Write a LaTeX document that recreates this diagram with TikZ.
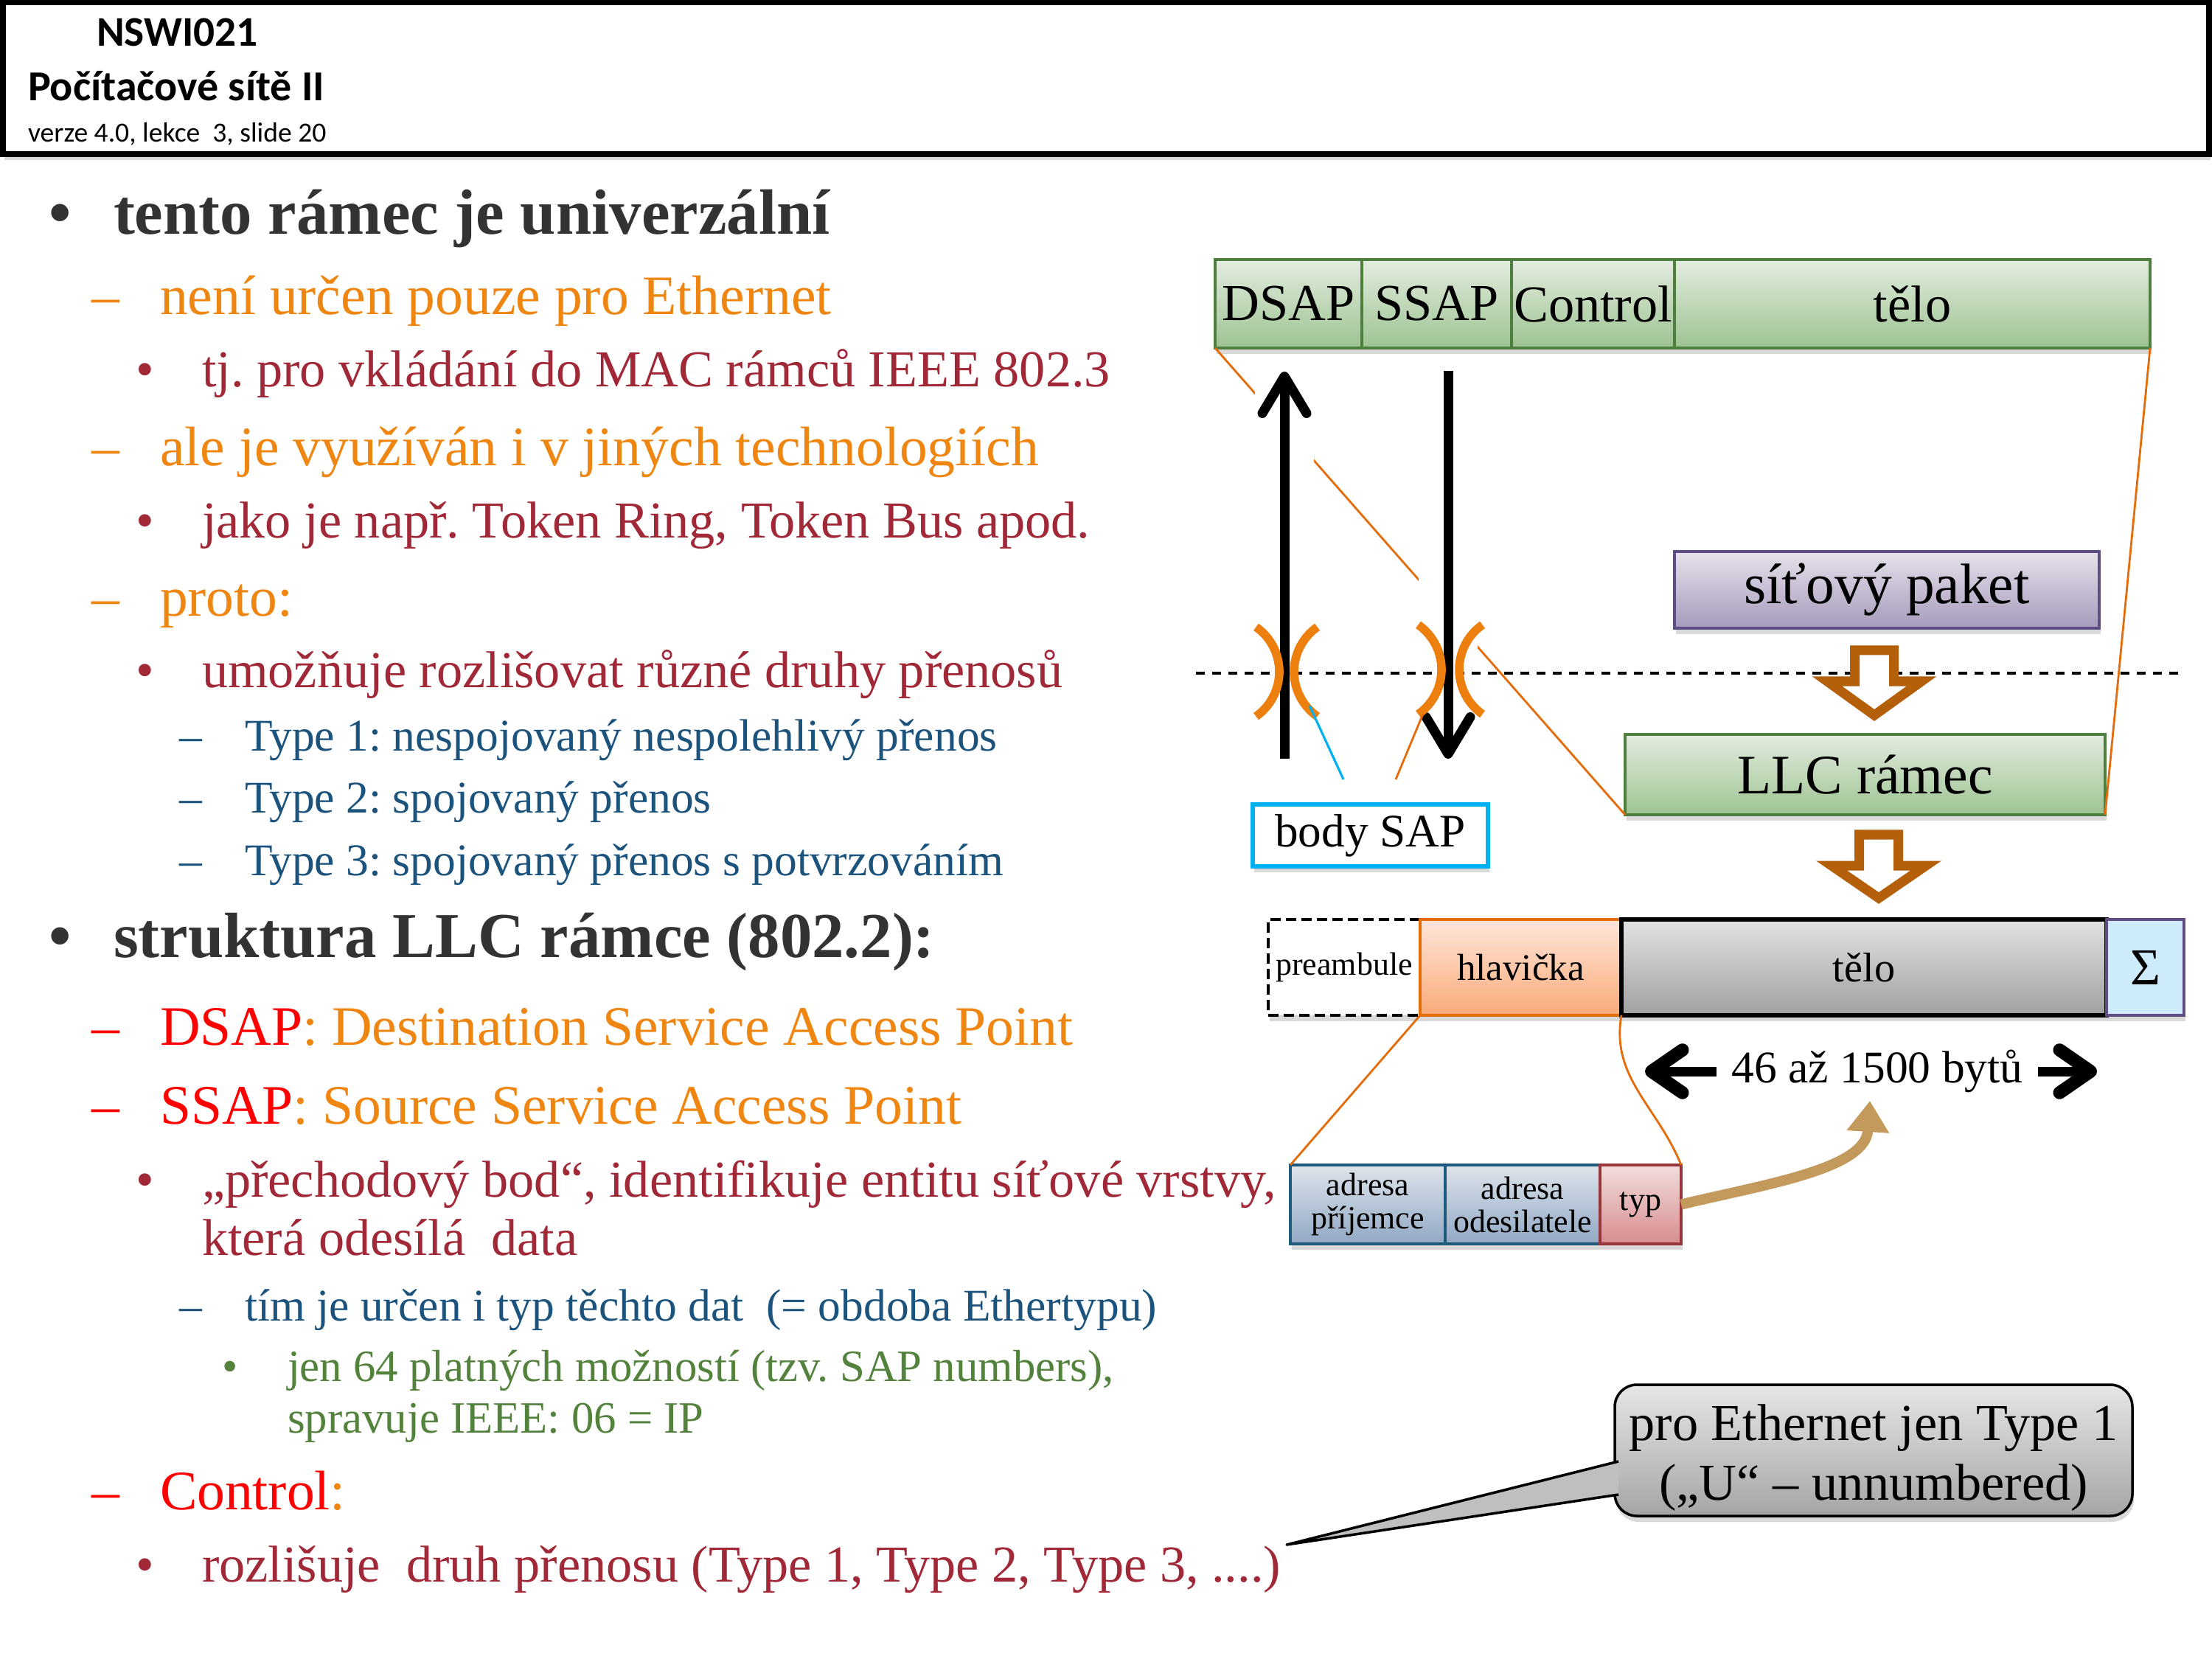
\documentclass[tikz,border=0pt]{standalone}
\usepackage{fontspec}
\setmainfont{Liberation Serif}
\newfontfamily\hdrfont{Carlito}
\usetikzlibrary{positioning,arrows.meta,shadows}

\definecolor{ink}{RGB}{51,51,51}
\definecolor{ora}{RGB}{238,134,17}
\definecolor{wine}{RGB}{160,40,55}
\definecolor{deepblue}{RGB}{28,83,125}
\definecolor{leaf}{RGB}{83,130,60}
\definecolor{rust}{RGB}{228,108,10}
\definecolor{brkora}{RGB}{237,127,14}
\definecolor{sky}{RGB}{0,176,240}
\definecolor{hollbrown}{RGB}{180,95,10}
\definecolor{tanarrow}{RGB}{196,154,92}
\definecolor{grnline}{RGB}{78,127,62}
\definecolor{grntop}{RGB}{227,236,224}
\definecolor{grnbot}{RGB}{157,195,145}
\definecolor{purline}{RGB}{94,76,130}
\definecolor{purtop}{RGB}{230,225,235}
\definecolor{purbot}{RGB}{166,154,187}
\definecolor{hlvtop}{RGB}{253,230,218}
\definecolor{hlvbot}{RGB}{250,170,120}
\definecolor{grytop}{RGB}{226,226,226}
\definecolor{grybot}{RGB}{160,160,160}
\definecolor{sumfill}{RGB}{205,235,250}
\definecolor{bluline}{RGB}{31,90,125}
\definecolor{blutop}{RGB}{222,228,235}
\definecolor{blubot}{RGB}{145,168,196}
\definecolor{redline}{RGB}{150,54,60}
\definecolor{redtop}{RGB}{242,221,220}
\definecolor{redbot}{RGB}{215,140,142}
\definecolor{calltop}{RGB}{230,230,230}
\definecolor{callbot}{RGB}{165,165,165}

\tikzset{
  txt/.style={anchor=base west, inner sep=0pt, outer sep=0pt},
  lvla/.style={txt, text=ink, font=\fontsize{24.7}{29}\selectfont\bfseries},
  lvlb/.style={txt, text=ora, font=\fontsize{21.5}{26}\selectfont},
  lvlc/.style={txt, text=wine, font=\fontsize{20}{24}\selectfont},
  lvld/.style={txt, text=deepblue, font=\fontsize{17.5}{21}\selectfont},
  lvle/.style={txt, text=leaf, font=\fontsize{17.3}{21}\selectfont},
  shd/.style={drop shadow={opacity=0.3, shadow xshift=0.02cm, shadow yshift=-0.08cm}},
  fld/.style={draw, shd, outer sep=0pt, inner sep=0pt, line width=1.1pt},
  grn/.style={fld, draw=grnline, top color=grntop, bottom color=grnbot},
  llcfield/.style={grn, minimum height=1.2cm, font=\fontsize{20}{24}\selectfont},
  framefield/.style={fld, minimum height=1.3cm},
  subfield/.style={fld, minimum height=1.07cm, align=center, font=\fontsize{12.5}{12.8}\selectfont},
  thinora/.style={draw=rust, line width=0.8pt},
  brk/.style={draw=brkora, line width=3.3pt},
  sapflow/.style={line width=3.7pt, -{Straight Barb[round, length=0.5cm, width=0.6cm]},
    preaction={draw=white, line width=0.8cm, -}},
  lenarr/.style={line width=3.7pt, -{Straight Barb[round, length=0.42cm, width=0.58cm, line width=5pt]}},
  holl/.style={draw=hollbrown, fill=white, line width=3.7pt},
  tanarr/.style={draw=tanarrow, line width=4pt, -{Triangle[length=0.42cm, width=0.55cm]}},
  sep/.style={line width=1.2pt, dash pattern=on 0.12cm off 0.1cm},
  callbox/.style={draw, line width=1pt, rounded corners=0.3cm, top color=calltop, bottom color=callbot, shd}
}

\begin{document}
\frenchspacing
\begin{tikzpicture}
  \useasboundingbox (0,0) rectangle (30,-22.5);

  \node[draw, line width=2.2pt, fill=white, shd, minimum width=29.92cm, minimum height=2.06cm] (hdr) at (15,-1.06) {};
  \node[txt, font=\hdrfont\fontsize{16.3}{19}\selectfont\bfseries] (course) at (1.31,-0.63) {NSWI021};
  \node[txt, font=\hdrfont\fontsize{16.5}{19}\selectfont\bfseries] (title) at (0.38,-1.37) {Počítačové sítě II};
  \node[txt, font=\hdrfont\fontsize{10.7}{13}\selectfont] (ver) at (0.38,-1.93) {verze 4.0, lekce~ 3, slide 20};

  \node[lvla] (b1) at (0.67,-3.18) {•};
  \node[lvla] (t1) at (1.54,-3.18) {tento rámec je univerzální};
  \node[lvlb] (d2) at (1.24,-4.27) {–};
  \node[lvlb] (t2) at (2.17,-4.27) {není určen pouze pro Ethernet};
  \node[lvlc] (b3) at (1.84,-5.25) {•};
  \node[lvlc] (t3) at (2.74,-5.25) {tj. pro vkládání do MAC rámců IEEE 802.3};
  \node[lvlb] (d4) at (1.24,-6.32) {–};
  \node[lvlb] (t4) at (2.17,-6.32) {ale je využíván i v jiných technologiích};
  \node[lvlc] (b5) at (1.84,-7.30) {•};
  \node[lvlc] (t5) at (2.74,-7.30) {jako je např. Token Ring, Token Bus apod.};
  \node[lvlb] (d6) at (1.24,-8.36) {–};
  \node[lvlb] (t6) at (2.17,-8.36) {proto:};
  \node[lvlc] (b7) at (1.84,-9.33) {•};
  \node[lvlc] (t7) at (2.74,-9.33) {umožňuje rozlišovat různé druhy přenosů};
  \node[lvld] (d8) at (2.43,-10.19) {–};
  \node[lvld] (t8) at (3.32,-10.19) {Type 1: nespojovaný nespolehlivý přenos};
  \node[lvld] (d9) at (2.43,-11.03) {–};
  \node[lvld] (t9) at (3.32,-11.03) {Type 2: spojovaný přenos};
  \node[lvld] (d10) at (2.43,-11.87) {–};
  \node[lvld] (t10) at (3.32,-11.87) {Type 3: spojovaný přenos s potvrzováním};
  \node[lvla] (b11) at (0.67,-12.98) {•};
  \node[lvla] (t11) at (1.54,-12.98) {struktura LLC rámce (802.2):};
  \node[lvlb, text=red] (d12) at (1.24,-14.17) {–};
  \node[lvlb] (t12) at (2.17,-14.17) {\color{red}DSAP\color{ora}: Destination Service Access Point};
  \node[lvlb, text=red] (d13) at (1.24,-15.24) {–};
  \node[lvlb] (t13) at (2.17,-15.24) {\color{red}SSAP\color{ora}: Source Service Access Point};
  \node[lvlc] (b14) at (1.84,-16.23) {•};
  \node[lvlc] (t14) at (2.74,-16.23) {„přechodový bod“, identifikuje entitu síťové vrstvy,};
  \node[lvlc] (t15) at (2.74,-17.02) {která odesílá~ data};
  \node[lvld] (d16) at (2.43,-17.91) {–};
  \node[lvld] (t16) at (3.32,-17.91) {tím je určen i typ těchto dat~ (= obdoba Ethertypu)};
  \node[lvle] (b17) at (3.01,-18.73) {•};
  \node[lvle] (t17) at (3.90,-18.73) {jen 64 platných možností (tzv. SAP numbers),};
  \node[lvle] (t18) at (3.90,-19.43) {spravuje IEEE: 06 = IP};
  \node[lvlb, text=red] (d19) at (1.24,-20.47) {–};
  \node[lvlb] (t19) at (2.17,-20.47) {\color{red}Control\color{ora}:};
  \node[lvlc] (b20) at (1.84,-21.45) {•};
  \node[lvlc] (t20) at (2.74,-21.45) {rozlišuje~ druh přenosu (Type 1, Type 2, Type 3, ....)};

  \node[llcfield, minimum width=1.99cm, anchor=north west] (dsap) at (16.48,-3.52) {DSAP};
  \node[llcfield, minimum width=2.03cm, right=0pt of dsap] (ssap) {SSAP};
  \node[llcfield, minimum width=2.21cm, right=0pt of ssap] (ctrl) {Control};
  \node[llcfield, minimum width=6.45cm, right=0pt of ctrl] (telo) {tělo};

  \node[fld, draw=purline, top color=purtop, bottom color=purbot, minimum width=5.76cm, minimum height=1.04cm,
    font=\fontsize{22}{26}\selectfont] (pkt) at (25.59,-8.00) {síťový paket};
  \node[grn, minimum width=6.51cm, minimum height=1.09cm, font=\fontsize{21.5}{26}\selectfont] (llc) at (25.295,-10.505) {LLC rámec};

  \draw[thinora] (dsap.south west) -- (llc.south west);
  \draw[thinora] (telo.south east) -- (llc.south east);

  \coordinate (upb) at (17.42,-10.29);
  \coordinate (upt) at (17.42,-5.04);
  \coordinate (dnt) at (19.64,-5.03);
  \coordinate (dnb) at (19.64,-10.29);
  \draw[sapflow] (upb) -- (upt);
  \draw[sapflow] (dnt) -- (dnb);

  \draw[sep] (16.22,-9.13) -- (29.62,-9.13);

  \draw[brk] (16.61,-9.11) ++(-55:0.74) arc[start angle=-55, end angle=55, radius=0.74];
  \draw[brk] (18.29,-9.11) ++(125:0.74) arc[start angle=125, end angle=235, radius=0.74];
  \draw[brk] (18.81,-9.08) ++(-55:0.74) arc[start angle=-55, end angle=55, radius=0.74];
  \draw[brk] (20.53,-9.08) ++(125:0.74) arc[start angle=125, end angle=235, radius=0.74];

  \node[draw=sky, line width=1.6pt, fill=white, shd, minimum width=3.19cm, minimum height=0.84cm,
    font=\fontsize{18}{22}\selectfont] (sap) at (18.585,-11.33) {body SAP};
  \coordinate (lbk) at (17.76,-9.57);
  \coordinate (rbk) at (19.30,-9.68);
  \coordinate (sapl) at (18.22,-10.57);
  \coordinate (sapr) at (18.93,-10.57);
  \draw[draw=sky, line width=0.9pt] (lbk) -- (sapl);
  \draw[thinora] (rbk) -- (sapr);

  \draw[holl] (25.155,-8.82) -- ++(0.53,0) -- ++(0,-0.42) -- ++(0.375,0) -- ++(-0.64,-0.46)
    -- ++(-0.64,0.46) -- ++(0.375,0) -- cycle;
  \draw[holl] (25.215,-11.32) -- ++(0.53,0) -- ++(0,-0.42) -- ++(0.375,0) -- ++(-0.64,-0.44)
    -- ++(-0.64,0.44) -- ++(0.375,0) -- cycle;

  \node[framefield, draw=black, dashed, dash pattern=on 0.14cm off 0.07cm, line width=1.3pt, fill=white,
    minimum width=2.06cm, anchor=north west, font=\fontsize{12.5}{14}\selectfont] (pre) at (17.20,-12.47) {preambule};
  \node[framefield, draw=rust, top color=hlvtop, bottom color=hlvbot, minimum width=2.73cm,
    right=0pt of pre, font=\fontsize{14.5}{17}\selectfont] (hlav) {hlavička};
  \node[framefield, draw=black, line width=1.5pt, top color=grytop, bottom color=grybot, minimum width=6.58cm,
    right=0pt of hlav, font=\fontsize{16}{19}\selectfont] (telob) {tělo};
  \node[framefield, draw=purline, fill=sumfill, minimum width=1.05cm,
    right=0pt of telob, font=\fontsize{20}{24}\selectfont] (sum) {Σ};

  \node[fill=white, inner sep=0.2cm, font=\fontsize{17.5}{21}\selectfont] (len) at (25.46,-14.53) {46 až 1500 bytů};
  \coordinate (lenl) at (22.31,-14.53);
  \coordinate (lenr) at (28.44,-14.53);
  \draw[lenarr] (len.west) -- (lenl);
  \draw[lenarr] (len.east) -- (lenr);

  \node[subfield, draw=bluline, top color=blutop, bottom color=blubot, minimum width=2.10cm,
    anchor=north west] (adr1) at (17.50,-15.80) {adresa\\příjemce};
  \node[subfield, draw=bluline, top color=blutop, bottom color=blubot, minimum width=2.10cm,
    right=0pt of adr1] (adr2) {adresa\\odesilatele};
  \node[subfield, draw=redline, top color=redtop, bottom color=redbot, minimum width=1.10cm,
    right=0pt of adr2] (typ) {typ};

  \draw[thinora] (hlav.south west) -- (adr1.north west);
  \draw[thinora] (hlav.south east) to[out=-100, in=112] (typ.north east);

  \coordinate (tanend) at (25.36,-14.93);
  \draw[tanarr] (typ.east) .. controls (24.0,-16.05) and (25.3,-15.85) .. (tanend);

  \node[callbox, minimum width=7.02cm, minimum height=1.78cm] (note) at (25.41,-19.67) {};
  \node[align=center, font=\fontsize{20}{23}\selectfont] (notetxt) at (25.41,-19.77)
    {pro Ethernet jen Type 1\\(„U“ – unnumbered)};
  \coordinate (tip) at (17.45,-20.95);
  \coordinate (pa) at (21.95,-19.82);
  \coordinate (pb) at (21.95,-20.27);
  \fill[black!25] (pa) -- (tip) -- (pb) -- cycle;
  \draw[line width=1pt, line join=round] (pa) -- (tip) -- (pb);
\end{tikzpicture}
\end{document}
